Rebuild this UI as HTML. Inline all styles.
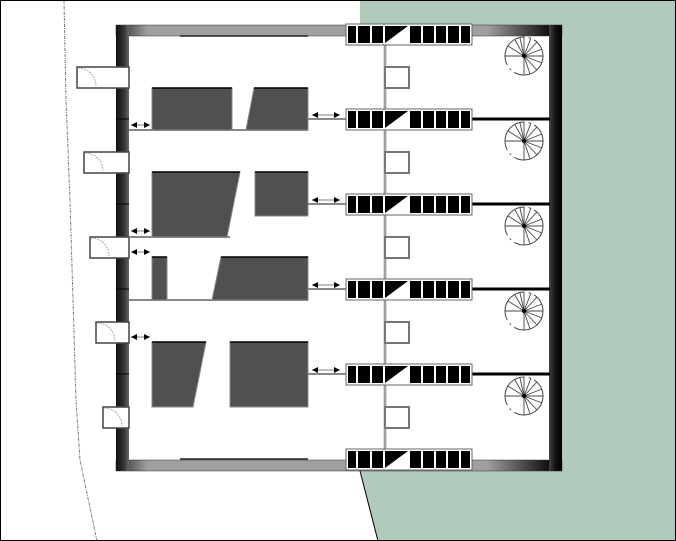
<!DOCTYPE html>
<html><head><style>
html,body{margin:0;padding:0;background:#fff;}
svg{display:block;}
</style></head><body>
<svg width="676" height="541" viewBox="0 0 676 541" xmlns="http://www.w3.org/2000/svg">
<defs>
<linearGradient id="lw" x1="0" x2="1" y1="0" y2="0">
<stop offset="0" stop-color="#111"/><stop offset="0.6" stop-color="#333"/><stop offset="1" stop-color="#666"/>
</linearGradient>
<linearGradient id="rw" x1="0" x2="1" y1="0" y2="0">
<stop offset="0" stop-color="#444"/><stop offset="0.5" stop-color="#111"/><stop offset="1" stop-color="#000"/>
</linearGradient>
<linearGradient id="tw" x1="0" x2="1" y1="0" y2="0">
<stop offset="0" stop-color="#222"/><stop offset="0.07" stop-color="#a0a0a0"/><stop offset="0.83" stop-color="#a0a0a0"/><stop offset="0.97" stop-color="#111"/>
</linearGradient>
<marker id="ah" viewBox="0 0 6 6" refX="6" refY="3" markerWidth="6" markerHeight="6" markerUnits="userSpaceOnUse" orient="auto-start-reverse">
<path d="M0,0 L6,3 L0,6 z" fill="#000"/>
</marker>
<g id="stair">
<rect x="346" y="0" width="126" height="21" fill="#fff" stroke="#666" stroke-width="1"/>
<rect x="348" y="2" width="122" height="17" fill="#000"/>
<g stroke="#fff" stroke-width="2">
<line x1="357" y1="2" x2="357" y2="19"/><line x1="371" y1="2" x2="371" y2="19"/>
<line x1="384" y1="2" x2="384" y2="19"/><line x1="409" y1="2" x2="409" y2="19"/>
<line x1="422" y1="2" x2="422" y2="19"/><line x1="435" y1="2" x2="435" y2="19"/>
<line x1="447" y1="2" x2="447" y2="19"/><line x1="460" y1="2" x2="460" y2="19"/>
</g>
<polygon points="385,19 408,2 408,19" fill="#fff"/>
</g>
<g id="spiral">
<circle cx="0" cy="0" r="19" fill="#fff" stroke="#444" stroke-width="1" stroke-dasharray="40 4 2 4"/>
<g stroke="#444" stroke-width="0.9">
<line x1="0" y1="0" x2="0" y2="-19"/><line x1="0" y1="0" x2="7" y2="-18"/><line x1="0" y1="0" x2="13" y2="-14"/>
<line x1="0" y1="0" x2="18" y2="-7"/><line x1="0" y1="0" x2="19" y2="0"/><line x1="0" y1="0" x2="18" y2="7"/>
<line x1="0" y1="0" x2="13" y2="14"/><line x1="0" y1="0" x2="6" y2="18"/><line x1="0" y1="0" x2="0" y2="19"/>
<line x1="0" y1="0" x2="-19" y2="0"/><line x1="0" y1="0" x2="-16" y2="-10"/><line x1="0" y1="0" x2="-9" y2="-16"/>
<line x1="0" y1="0" x2="-4" y2="-18"/>
</g>
<circle cx="0" cy="0" r="2" fill="#000"/>
</g>
<g id="box">
<rect x="385" y="0" width="24" height="21" fill="#fff" stroke="#777" stroke-width="2"/>
</g>
</defs>
<rect x="0" y="0" width="676" height="541" fill="#fff"/>
<polygon points="360,0 676,0 676,541 378,541 360,470" fill="#b0cabb"/>
<path d="M64,0 L66,100 L70,200 L73,300 L76,400 L80,460 L97,541" fill="none" stroke="#777" stroke-width="1" stroke-dasharray="3 1 1 1"/>
<rect x="116" y="25" width="446" height="446" fill="#fff"/>
<rect x="116" y="25" width="446" height="11" fill="url(#tw)" stroke="#333" stroke-width="0.5"/>
<rect x="116" y="460" width="446" height="11" fill="url(#tw)" stroke="#333" stroke-width="0.5"/>
<rect x="116" y="25" width="13" height="446" fill="url(#lw)"/>
<rect x="549" y="25" width="13" height="446" fill="url(#rw)"/>
<g stroke="#000" stroke-width="1">
<line x1="116" y1="119" x2="129" y2="119"/><line x1="116" y1="204" x2="129" y2="204"/>
<line x1="116" y1="289" x2="129" y2="289"/><line x1="116" y1="374" x2="129" y2="374"/>
</g>
<line x1="180" y1="36" x2="308" y2="36" stroke="#222" stroke-width="1.5"/>
<line x1="180" y1="459" x2="308" y2="459" stroke="#222" stroke-width="1.5"/>
<g fill="#fff" stroke="#444" stroke-width="1.5">
<rect x="77" y="67" width="52" height="21"/>
<rect x="84" y="152" width="45" height="21"/>
<rect x="90" y="237" width="39" height="21"/>
<rect x="96" y="322" width="33" height="21"/>
<rect x="103" y="407" width="26" height="21"/>
</g>
<g fill="none" stroke="#999" stroke-width="0.8" stroke-dasharray="2 1">
<path d="M78,68 A18 18 0 0 1 96,86"/><path d="M85,153 A18 18 0 0 1 103,171"/>
<path d="M91,238 A18 18 0 0 1 109,256"/><path d="M97,323 A18 18 0 0 1 115,341"/>
<path d="M104,408 A18 18 0 0 1 122,426"/>
</g>
<g stroke="#888" stroke-width="2">
<line x1="129" y1="130" x2="308" y2="130"/><line x1="129" y1="237" x2="230" y2="237"/>
<line x1="129" y1="300" x2="308" y2="300"/>
<line x1="308" y1="119" x2="346" y2="119"/><line x1="308" y1="204" x2="346" y2="204"/>
<line x1="308" y1="289" x2="346" y2="289"/><line x1="308" y1="374" x2="346" y2="374"/>
</g>
<g fill="#505050" stroke="#888" stroke-width="1">
<rect x="152" y="88" width="80" height="42"/>
<polygon points="254,88 308,88 308,130 246,130"/>
<polygon points="152,172 240,172 227,237 152,237"/>
<rect x="255" y="172" width="53" height="44"/>
<rect x="152" y="257" width="15" height="43"/>
<polygon points="221,257 308,257 308,300 212,300"/>
<polygon points="152,342 206,342 193,407 152,407"/>
<rect x="230" y="342" width="78" height="65"/>
</g>
<g stroke="#000" stroke-width="1.5">
<line x1="152" y1="88" x2="232" y2="88"/><line x1="254" y1="88" x2="308" y2="88"/>
<line x1="152" y1="172" x2="240" y2="172"/><line x1="255" y1="172" x2="308" y2="172"/>
<line x1="152" y1="257" x2="167" y2="257"/><line x1="221" y1="257" x2="308" y2="257"/>
<line x1="152" y1="342" x2="206" y2="342"/><line x1="230" y1="342" x2="308" y2="342"/>
</g>
<g stroke="#555" stroke-width="0.8" marker-start="url(#ah)" marker-end="url(#ah)">
<line x1="131" y1="125" x2="150" y2="125"/><line x1="131" y1="231" x2="150" y2="231"/>
<line x1="131" y1="252" x2="150" y2="252"/><line x1="131" y1="337" x2="150" y2="337"/>
<line x1="312" y1="115" x2="340" y2="115"/><line x1="312" y1="200" x2="340" y2="200"/>
<line x1="312" y1="285" x2="340" y2="285"/><line x1="312" y1="370" x2="340" y2="370"/>
</g>
<line x1="385" y1="45" x2="385" y2="450" stroke="#777" stroke-width="2.5"/>
<line x1="385" y1="45" x2="385" y2="450" stroke="#fff" stroke-width="0.6"/>
<use href="#box" y="67"/><use href="#box" y="152"/><use href="#box" y="237"/><use href="#box" y="322"/><use href="#box" y="407"/>
<g stroke="#000" stroke-width="3">
<line x1="472" y1="119" x2="550" y2="119"/><line x1="472" y1="204" x2="550" y2="204"/>
<line x1="472" y1="289" x2="550" y2="289"/><line x1="472" y1="374" x2="550" y2="374"/>
</g>
<use href="#stair" y="24"/><use href="#stair" y="109"/><use href="#stair" y="194"/>
<use href="#stair" y="279"/><use href="#stair" y="364"/><use href="#stair" y="449"/>
<use href="#spiral" x="524" y="56"/><use href="#spiral" x="524" y="141"/><use href="#spiral" x="524" y="226"/>
<use href="#spiral" x="524" y="311"/><use href="#spiral" x="524" y="396"/>
<line x1="360" y1="471" x2="378" y2="541" stroke="#000" stroke-width="1"/>
<rect x="0.5" y="0.5" width="675" height="540" fill="none" stroke="#000" stroke-width="1"/>
</svg>
</body></html>
